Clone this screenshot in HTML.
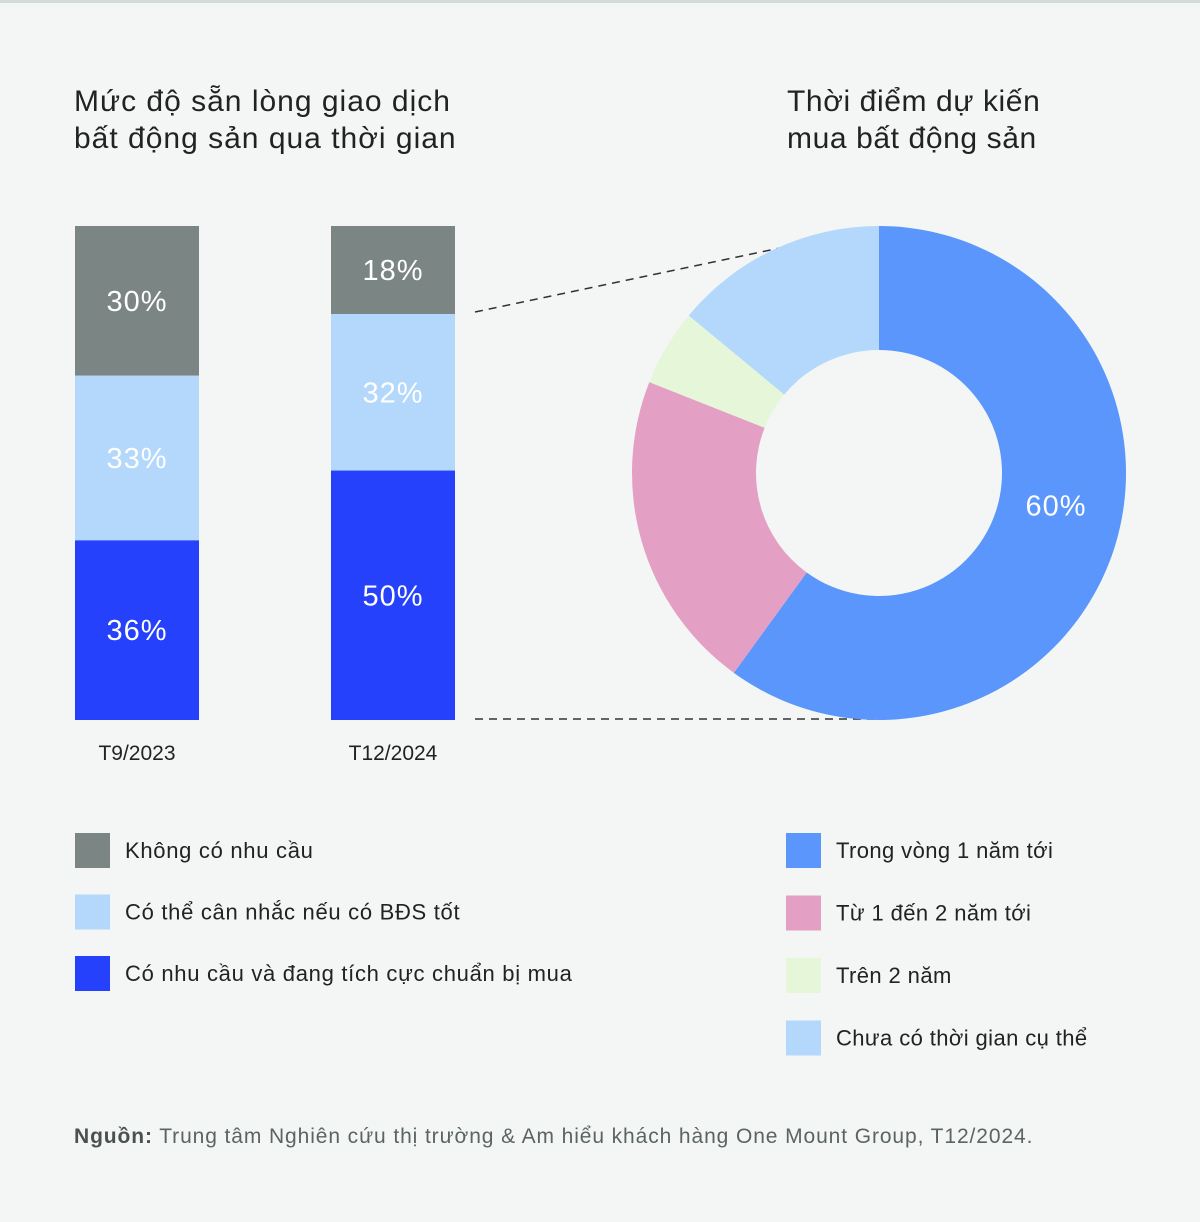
<!DOCTYPE html>
<html><head><meta charset="utf-8">
<style>
body{margin:0;background:#f3f6f5;}
svg{display:block;font-family:"Liberation Sans",sans-serif;}
</style></head>
<body>
<svg id="c" width="1200" height="1222" viewBox="0 0 1200 1222">
<rect x="0" y="0" width="1200" height="1222" fill="#f3f6f5"/>
<rect x="0" y="0" width="1200" height="3" fill="#d3dbd9"/>
<text x="74" y="111" font-size="30" letter-spacing="1" fill="#222">Mức độ sẵn lòng giao dịch</text>
<text x="74" y="148" font-size="30" letter-spacing="1" fill="#222">bất động sản qua thời gian</text>
<text x="787" y="111" font-size="30" letter-spacing="0.6" fill="#222">Thời điểm dự kiến</text>
<text x="787" y="148" font-size="30" letter-spacing="0.6" fill="#222">mua bất động sản</text>
<line x1="475" y1="312" x2="780" y2="248" stroke="#333" stroke-width="1.5" stroke-dasharray="8,6"/>
<line x1="475" y1="719" x2="879" y2="719" stroke="#333" stroke-width="1.5" stroke-dasharray="8,6"/>
<g id="bars"></g>
<g id="donut"></g>
<g id="legend"></g>
<text x="74" y="1143" font-size="21" letter-spacing="0.9" fill="#5c6463"><tspan font-weight="bold" fill="#4a5150">Nguồn:</tspan> Trung tâm Nghiên cứu thị trường &amp; Am hiểu khách hàng One Mount Group, T12/2024.</text>
</svg>
<script>
const barCategories=["T9/2023","T12/2024"];
const seriesNoNeed=[30,18];
const seriesMaybe=[33,32];
const seriesActive=[36,50];
const donutLabels=["Trong vòng 1 năm tới","Từ 1 đến 2 năm tới","Trên 2 năm","Chưa có thời gian cụ thể"];
const donutValues=[60,21,5,14];

const NS="http://www.w3.org/2000/svg";
function mk(tag,attrs,parent,txt){const e=document.createElementNS(NS,tag);for(const k in attrs)e.setAttribute(k,attrs[k]);if(txt!==undefined)e.textContent=txt;parent.appendChild(e);return e;}
const barsG=document.getElementById('bars');
const barX=i=>75+i*256, barW=124, barTop=226, barBottom=720;
const barColors=["#7a8584","#b3d8fc","#2541fb"];
barCategories.forEach((cat,i)=>{
  const vals=[seriesNoNeed[i],seriesMaybe[i],seriesActive[i]];
  const tot=Math.max(vals.reduce((a,b)=>a+b,0),101)-(i===0?2:0);
  const sc=(barBottom-barTop)/tot;
  let y=barTop;
  vals.forEach((v,j)=>{
    const h=j===2?(barBottom-y):v*sc;
    const r=mk('rect',{x:barX(i),y:y,width:barW,height:h,fill:barColors[j]},barsG);
    
    
    const t=mk('text',{x:barX(i)+barW/2,y:y+h/2+10,'text-anchor':'middle','font-size':29,'letter-spacing':1,fill:'#fff'},barsG,v+'%');
    
    
    y+=h;
  });
  const l=mk('text',{x:barX(i)+barW/2,y:760,'text-anchor':'middle','font-size':21,fill:'#222'},barsG,cat);
  
  
});
const donutG=document.getElementById('donut');
const cx=879,cy=473,R=247,r0=123;
const dColors=["#5a96fb","#e3a0c4","#e6f7d9","#b3d8fc"];
const dTot=donutValues.reduce((a,b)=>a+b,0);
let a0=0;
function pt(a,rad){return [cx+rad*Math.sin(a),cy-rad*Math.cos(a)];}
donutValues.forEach((v,i)=>{
  const a1=a0+v/dTot*2*Math.PI;
  const large=(a1-a0)>Math.PI?1:0;
  const [x1,y1]=pt(a0,R),[x2,y2]=pt(a1,R),[x3,y3]=pt(a1,r0),[x4,y4]=pt(a0,r0);
  const p=mk('path',{d:`M${x1},${y1} A${R},${R} 0 ${large} 1 ${x2},${y2} L${x3},${y3} A${r0},${r0} 0 ${large} 0 ${x4},${y4} Z`,fill:dColors[i]},donutG);
  
  
  if(i===0){
    const m=(a0+a1)/2*0.93;const [tx,ty]=pt(m,(R+r0)/2-5);
    const t=mk('text',{x:tx,y:ty+10,'text-anchor':'middle','font-size':29,'letter-spacing':1,fill:'#fff'},donutG,v+'%');
    
    
  }
  a0=a1;
});
const legendG=document.getElementById('legend');
const barLegend=["Không có nhu cầu","Có thể cân nhắc nếu có BĐS tốt","Có nhu cầu và đang tích cực chuẩn bị mua"];
barLegend.forEach((s,i)=>{
  const y=833+i*61.5;
  const r=mk('rect',{x:75,y:y,width:35,height:35,fill:barColors[i]},legendG);
  
  
  const t=mk('text',{x:125,y:y+25,'font-size':22,'letter-spacing':0.7,fill:'#222'},legendG,s);
  
  
});
donutLabels.forEach((s,i)=>{
  const y=833+i*62.5;
  const r=mk('rect',{x:786,y:y,width:35,height:35,fill:dColors[i]},legendG);
  
  
  const t=mk('text',{x:836,y:y+25,'font-size':22,'letter-spacing':0.4,fill:'#222'},legendG,s);
  
  
});
</script>
</body></html>
